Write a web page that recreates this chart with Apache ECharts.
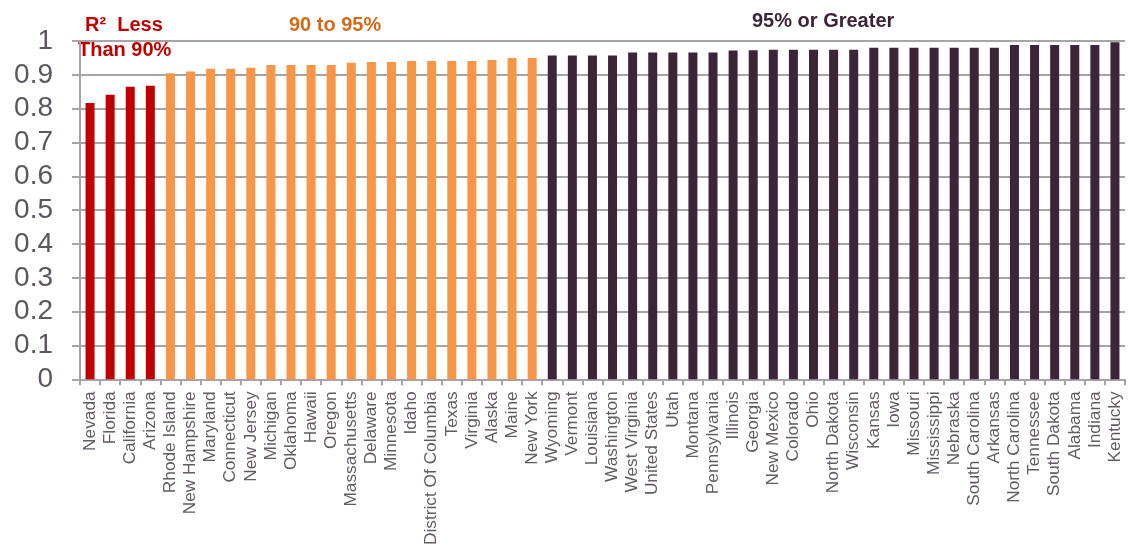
<!DOCTYPE html>
<html>
<head>
<meta charset="utf-8">
<script src="https://cdn.jsdelivr.net/npm/echarts@6/dist/echarts.min.js"></script>
<style>html,body{margin:0;padding:0;background:#fff}#c{width:1129px;height:548px}</style>
</head>
<body>
<div id="c"></div>
<script>
// Group 1: R² less than 90%
var lowStates = ['Nevada','Florida','California','Arizona'];
var lowValues = [0.817, 0.841, 0.865, 0.868];
// Group 2: 90 to 95%
var midStates = ['Rhode Island','New Hampshire','Maryland','Connecticut','New Jersey','Michigan','Oklahoma','Hawaii','Oregon','Massachusetts','Delaware','Minnesota','Idaho','District Of Columbia','Texas','Virginia','Alaska','Maine','New York'];
var midValues = [0.905, 0.910, 0.918, 0.918, 0.921, 0.929, 0.929, 0.929, 0.929, 0.936, 0.938, 0.938, 0.941, 0.941, 0.941, 0.941, 0.944, 0.950, 0.950];
// Group 3: 95% or greater
var highStates = ['Wyoming','Vermont','Louisiana','Washington','West Virginia','United States','Utah','Montana','Pennsylvania','Illinois','Georgia','New Mexico','Colorado','Ohio','North Dakota','Wisconsin','Kansas','Iowa','Missouri','Mississippi','Nebraska','South Carolina','Arkansas','North Carolina','Tennessee','South Dakota','Alabama','Indiana','Kentucky'];
var highValues = [0.957, 0.957, 0.957, 0.957, 0.966, 0.966, 0.966, 0.966, 0.966, 0.972, 0.973, 0.974, 0.974, 0.974, 0.974, 0.974, 0.980, 0.980, 0.980, 0.980, 0.980, 0.980, 0.980, 0.988, 0.988, 0.988, 0.988, 0.988, 0.996];
var yTicks = [0, 0.1, 0.2, 0.3, 0.4, 0.5, 0.6, 0.7, 0.8, 0.9, 1];

var groupColors = ['#c00000', '#f79646', '#3d2539'];
var categories = lowStates.concat(midStates, highStates);
var data = [];
[lowValues, midValues, highValues].forEach(function (vals, g) {
  vals.forEach(function (v) { data.push({ value: v, itemStyle: { color: groupColors[g] } }); });
});

var grid = '#a8a3a6';
var txt = '#5f5560';
var chart = echarts.init(document.getElementById('c'), null, { renderer: 'canvas' });
chart.setOption({
  animation: false,
  grid: { left: 80, right: 4, top: 41, bottom: 167, containLabel: false },
  xAxis: {
    type: 'category',
    data: categories,
    boundaryGap: true,
    axisLine: { lineStyle: { color: grid, width: 2 } },
    axisTick: { show: true, alignWithLabel: false, length: 6, lineStyle: { color: grid, width: 2 } },
    axisLabel: { rotate: 90, interval: 0, margin: 12, color: '#645a64', fontSize: 17.3, fontFamily: 'Liberation Sans, Arial, sans-serif' }
  },
  yAxis: {
    type: 'value',
    min: 0, max: 1, interval: 0.1,
    axisLine: { show: true, lineStyle: { color: grid, width: 2 } },
    axisTick: { show: true, inside: false, length: 8, lineStyle: { color: grid, width: 2 } },
    splitLine: { show: true, lineStyle: { color: grid, width: 2 } },
    axisLabel: {
      margin: 27, color: txt, fontSize: 28, fontFamily: 'Liberation Sans, Arial, sans-serif',
      formatter: function (v) { var r = Math.round(v * 10) / 10; return yTicks.indexOf(r) >= 0 ? String(r) : ''; }
    }
  },
  series: [{
    type: 'bar',
    data: data,
    barWidth: 9
  }],
  graphic: [
    { type: 'text', left: 85, top: 15, style: { text: 'R² \u00a0Less', fill: '#c00000', font: 'bold 20px "Liberation Sans", Arial, sans-serif' } },
    { type: 'text', left: 78, top: 40, style: { text: 'Than 90%', fill: '#c00000', font: 'bold 20px "Liberation Sans", Arial, sans-serif' } },
    { type: 'text', left: 289, top: 15, style: { text: '90 to 95%', fill: '#d66a18', font: 'bold 20px "Liberation Sans", Arial, sans-serif', letterSpacing: 1 } },
    { type: 'text', left: 752, top: 11, style: { text: '95% or Greater', fill: '#3d2539', font: 'bold 20px "Liberation Sans", Arial, sans-serif' } }
  ]
});
</script>
</body>
</html>
